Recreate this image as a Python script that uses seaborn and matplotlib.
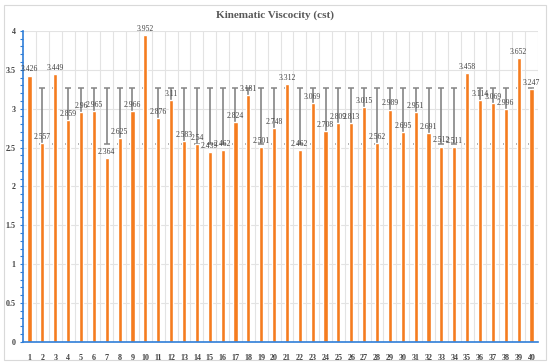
import numpy as np
import pandas as pd
import seaborn as sns
import matplotlib.pyplot as plt
from matplotlib.patches import Rectangle
from matplotlib.ticker import MultipleLocator

samples = [str(i) for i in range(1, 41)]
viscosity = [3.426, 2.557, 3.449, 2.859, 2.96, 2.965, 2.364, 2.625, 2.966, 3.952,
             2.876, 3.11, 2.583, 2.54, 2.439, 2.462, 2.824, 3.181, 2.501, 2.748,
             3.312, 2.462, 3.069, 2.708, 2.809, 2.813, 3.015, 2.562, 2.989, 2.695,
             2.951, 2.691, 2.512, 2.511, 3.458, 3.114, 3.069, 2.996, 3.652, 3.247]

df = pd.DataFrame({"sample": samples, "viscosity": viscosity})

# mean +/- std band drawn at every category (grey range lines)
mean_v = np.mean(viscosity)
std_v = np.std(viscosity)

sns.set_theme(style="white")
plt.rcParams["font.family"] = ["Liberation Serif", "DejaVu Serif"]

fig = plt.figure(figsize=(5.5, 3.64), dpi=100)
ax = fig.add_axes([0.042, 0.061, 0.936, 0.854])

# light grid
for y in np.arange(0.5, 4.01, 0.5):
    ax.axhline(y, color="#e3e3e3", lw=0.8, zorder=0)
for x in np.arange(0.5, 39.6, 1):
    ax.axvline(x, color="#e3e3e3", lw=0.8, zorder=0)

ax.errorbar(np.arange(len(samples)), [mean_v] * len(samples), yerr=std_v, fmt="none",
            ecolor="#858585", elinewidth=1.2, capsize=2.2, capthick=1.1, zorder=1)

sns.barplot(data=df, x="sample", y="viscosity", color="#f57c1f", saturation=1,
            width=0.32, ax=ax, zorder=2)

labels = [f"{v:g}" for v in viscosity]
ax.bar_label(ax.containers[-1], labels=labels, fontsize=5.5, color="#404040", padding=1.5)

ax.set_xlim(-0.5, 39.5)
ax.set_ylim(0, 4)
ax.set_yticks([0, 0.5, 1, 1.5, 2, 2.5, 3, 3.5, 4])
ax.set_yticklabels(["0", "0.5", "1", "1.5", "2", "2.5", "3", "3.5", "4"])
ax.yaxis.set_minor_locator(MultipleLocator(0.1))
ax.set_xlabel("")
ax.set_ylabel("")

for s in ["top", "right"]:
    ax.spines[s].set_visible(False)
for s in ["left", "bottom"]:
    ax.spines[s].set_color("#2f7ed8")
    ax.spines[s].set_linewidth(1.2)

ax.tick_params(axis="y", which="major", left=True, length=2.5, width=0.8, color="#2f7ed8",
               labelsize=5.8, labelcolor="#404040", pad=3)
ax.tick_params(axis="y", which="minor", left=True, length=2, width=0.8, color="#2f7ed8")
ax.tick_params(axis="x", bottom=False, labelsize=5.8, labelcolor="#404040", pad=3)
for t in ax.get_xticklabels() + ax.get_yticklabels():
    t.set_fontweight("bold")

fig.text(0.5, 0.957, "Kinematic Viscocity (cst)", ha="center", va="center",
         fontsize=8, fontweight="bold", color="#595959")

fig.patches.append(Rectangle((0.008, 0.012), 0.985, 0.975, transform=fig.transFigure,
                             fill=False, edgecolor="#d9d9d9", lw=0.8))

fig.savefig("out.png", dpi=100)
